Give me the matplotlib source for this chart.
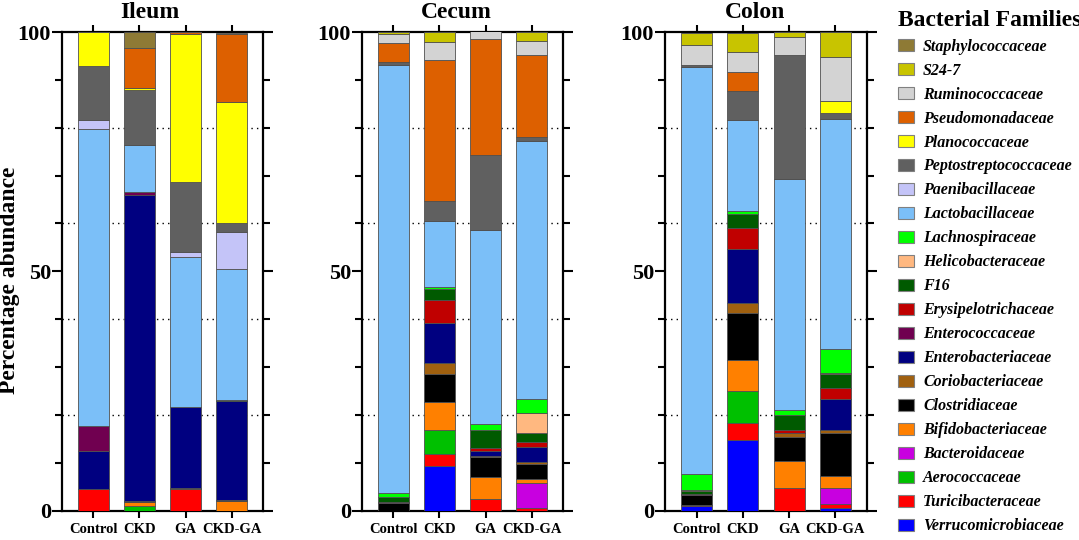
import matplotlib
matplotlib.use("Agg")
import matplotlib.pyplot as plt
import numpy as np
from matplotlib.patches import Patch
from matplotlib.ticker import MultipleLocator

plt.rcParams["font.family"] = ["Liberation Serif", "DejaVu Serif"]

GROUPS = ["Control", "CKD", "GA", "CKD-GA"]
TISSUES = ["Ileum", "Cecum", "Colon"]

# stacking order, bottom -> top
FAMILIES = [
    "Verrucomicrobiaceae", "Turicibacteraceae", "Aerococcaceae", "Bacteroidaceae",
    "Bifidobacteriaceae", "Clostridiaceae", "Coriobacteriaceae", "Enterobacteriaceae",
    "Enterococcaceae", "Erysipelotrichaceae", "F16", "Helicobacteraceae",
    "Lachnospiraceae", "Lactobacillaceae", "Paenibacillaceae", "Peptostreptococcaceae",
    "Planococcaceae", "Pseudomonadaceae", "Ruminococcaceae", "S24-7", "Staphylococcaceae",
]
COLORS = [
    "#0000FF", "#FF0000", "#00C000", "#C800E0",
    "#FF8000", "#000000", "#A0600F", "#000080",
    "#700050", "#C00000", "#005A00", "#FFB880",
    "#00FF00", "#7BBFF8", "#C4C4F8", "#606060",
    "#FFFF00", "#DD6000", "#D3D3D3", "#C8C400", "#8E7A35",
]

# percentage abundance, one row per family (FAMILIES order), columns = GROUPS
ILEUM = [
    [0, 0, 0, 0], [4.4, 0, 4.4, 0], [0, 0.9, 0, 0], [0, 0, 0, 0],
    [0, 0.9, 0, 2.0], [0, 0.2, 0, 0.2], [0, 0, 0.3, 0], [8.1, 63.9, 16.9, 20.6],
    [5.2, 0.6, 0, 0], [0, 0, 0, 0], [0, 0, 0, 0.3], [0, 0, 0, 0],
    [0, 0, 0, 0], [62.0, 9.9, 31.4, 27.4], [1.9, 0, 1.1, 7.6], [11.2, 11.5, 14.6, 2.0],
    [7.2, 0.4, 30.8, 25.3], [0, 8.4, 0.4, 14.1], [0, 0, 0, 0], [0, 0, 0, 0], [0, 3.3, 0, 0.3],
]
CECUM = [
    [0, 9.4, 0, 0], [0, 2.4, 2.4, 0.5], [0, 5.0, 0, 0], [0, 0, 0, 5.3],
    [0, 5.9, 4.7, 0.7], [1.5, 5.8, 4.0, 3.2], [0, 2.3, 0.2, 0.4], [0, 8.3, 1.2, 3.1],
    [0.2, 0, 0, 0], [0, 4.9, 0.5, 1.2], [1.1, 2.2, 3.8, 1.9], [0, 0, 0, 4.1],
    [0.8, 0.6, 1.2, 3.0], [89.6, 13.8, 40.7, 53.9], [0, 0, 0, 0], [0.6, 4.0, 15.5, 0.7],
    [0, 0, 0, 0], [4.0, 29.5, 24.3, 17.1], [1.8, 3.8, 1.7, 3.1], [0.3, 2.2, 0, 1.8], [0, 0, 0, 0],
]
COLON = [
    [0.9, 14.8, 0, 0.6], [0.2, 3.4, 4.8, 0.7], [0, 6.8, 0, 0], [0, 0, 0, 3.5],
    [0, 6.4, 5.6, 2.4], [2.1, 9.9, 5.0, 9.0], [0, 2.0, 0.7, 0.7], [0, 11.3, 0, 6.5],
    [0.2, 0, 0, 0], [0, 4.4, 0.7, 2.3], [0.6, 2.9, 3.2, 2.9], [0.3, 0, 0, 0.2],
    [3.3, 0.6, 1.1, 5.0], [85.1, 19.1, 48.2, 48.0], [0, 0, 0, 0], [0.4, 6.1, 25.9, 1.2],
    [0, 0, 0, 2.6], [0, 3.9, 0, 0], [4.1, 4.3, 3.7, 9.2], [2.6, 3.9, 1.1, 5.1], [0, 0, 0, 0],
]
DATA = [ILEUM, CECUM, COLON]

W, H = 1079, 540
fig = plt.figure(figsize=(W / 100, H / 100), dpi=100)

# axes boxes in pixels: (left, right)
boxes = [(62, 263), (362, 563), (665, 867)]
top_px, bot_px = 32, 510.5
title_x = [0.435, 0.47, 0.446]

for k, (tissue, data) in enumerate(zip(TISSUES, DATA)):
    l, r = boxes[k]
    ax = fig.add_axes([l / W, 1 - bot_px / H, (r - l) / W, (bot_px - top_px) / H])
    vals = np.array(data, dtype=float)
    x = np.arange(len(GROUPS))
    bottom = np.zeros(len(GROUPS))
    for i, fam in enumerate(FAMILIES):
        ax.bar(x, vals[i], 0.67, bottom=bottom, color=COLORS[i],
               edgecolor="#505050", linewidth=0.6, zorder=3)
        bottom += vals[i]

    for g in (20, 40, 60, 80):
        ax.axhline(g, color="black", linestyle=(0, (1, 3)), linewidth=1.0, zorder=1)

    ax.set_xlim(-0.68, 3.68)
    ax.set_ylim(0, 100)
    ax.set_yticks([0, 50, 100])
    ax.yaxis.set_minor_locator(MultipleLocator(10))
    ax.set_xticks(x)
    ax.set_xticklabels(GROUPS, fontsize=10.5, fontweight="bold")
    for lab in ax.get_yticklabels():
        lab.set_fontsize(16)
        lab.set_fontweight("bold")
    ax.tick_params(axis="y", which="both", left=True, right=True, direction="out",
                   width=1.5, pad=1)
    ax.tick_params(axis="y", which="major", length=7)
    ax.tick_params(axis="y", which="minor", length=5)
    ax.tick_params(axis="x", top=True, bottom=True, direction="out", length=5,
                   width=1.5, pad=4)
    for sp in ax.spines.values():
        sp.set_linewidth(1.6)

    ax.text(title_x[k], 1 + 14 / (bot_px - top_px), tissue, transform=ax.transAxes,
            ha="center", va="baseline", fontsize=17, fontweight="bold")

fig.text(9.5 / W, 1 - 280 / H, "Percentage abundance", rotation=90, ha="center",
         va="center", fontsize=17, fontweight="bold")

handles = [Patch(facecolor=c, edgecolor="#808080", linewidth=0.8)
           for c in COLORS[::-1]]
leg = fig.legend(handles, FAMILIES[::-1], loc="upper left",
                 bbox_to_anchor=(888 / W, 1.0), frameon=False,
                 prop=dict(family="Liberation Serif", style="italic",
                           weight="bold", size=11.5),
                 handlelength=1.0, handleheight=0.8, handletextpad=0.6,
                 labelspacing=0.5, borderaxespad=0.2,
                 title="Bacterial Families",
                 title_fontproperties=dict(family="Liberation Serif",
                                           weight="bold", size=17))
leg._legend_box.align = "left"

fig.savefig("out.png", dpi=100)
